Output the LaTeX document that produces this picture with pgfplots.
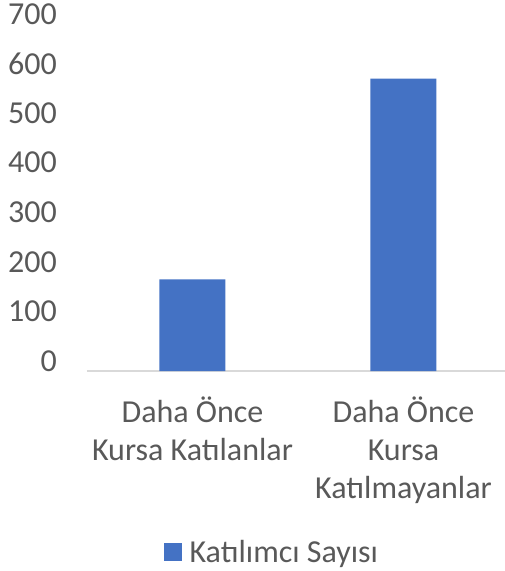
\documentclass[border=0pt]{standalone}
\usepackage{fontspec}
\setmainfont{Carlito}
\usepackage{pgfplots}
\pgfplotsset{compat=1.18}
\definecolor{barblue}{HTML}{4472C4}
\definecolor{txt}{HTML}{595959}
\definecolor{axl}{HTML}{D9D9D9}
\begin{document}
\begin{tikzpicture}
\useasboundingbox (0,0) rectangle (504pt,571pt);
\begin{axis}[
  at={(87pt,200pt)}, anchor=south west,
  width=422pt, height=347pt, scale only axis,
  xmin=-0.5, xmax=1.5, ymin=0, ymax=700,
  ytick={0,100,...,700},
  xtick={0,1},
  xticklabels={{Daha Önce\\Kursa Katılanlar},{Daha Önce\\Kursa\\Katılmayanlar}},
  axis x line*=bottom, axis y line*=left,
  y axis line style={draw=none},
  x axis line style={draw=axl, line width=1.3pt, -},
  major tick length=0pt,
  ybar, bar width=66pt,
  /pgf/number format/assume math mode=true,
  every tick label/.append style={font=\fontsize{32}{38}\selectfont, text=txt, inner sep=0pt},
  yticklabel style={anchor=east, xshift=-30pt, yshift=10pt},
  xticklabel style={align=center, anchor=north, yshift=-26pt},
  legend style={at={(0.438,-0.522)}, anchor=center, draw=none, fill=none,
    font=\fontsize{32}{38}\selectfont, text=txt},
  legend image code/.code={\fill[barblue] (0pt,-9pt) rectangle (18pt,9pt); \path (24pt,0pt);},
]
\addplot[fill=barblue, draw=none] coordinates {(0,185) (1,590)};
\addlegendentry{Katılımcı Sayısı}
\end{axis}
\end{tikzpicture}
\end{document}
